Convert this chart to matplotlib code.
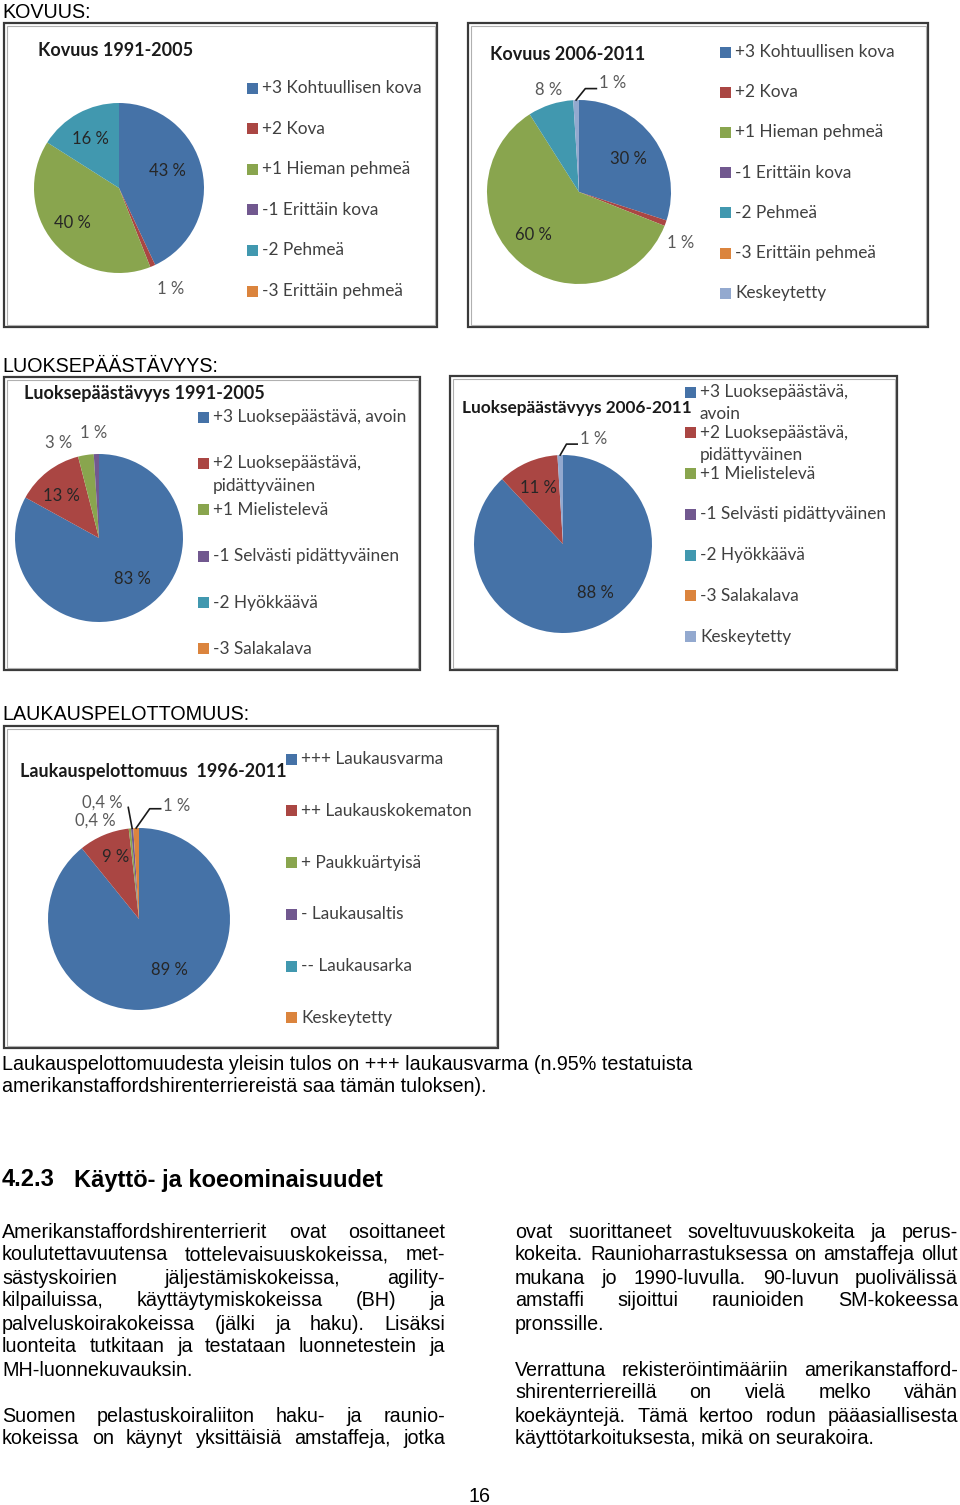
import numpy as np
import matplotlib
matplotlib.use('Agg')
import matplotlib.pyplot as plt
from matplotlib.patches import Rectangle

W, H = 960, 1505

# ---- data read from the page ----
kovuus_cats = ['+3 Kohtuullisen kova', '+2 Kova', '+1 Hieman pehmeä',
               '-1 Erittäin kova', '-2 Pehmeä', '-3 Erittäin pehmeä']
kovuus_cats2 = kovuus_cats + ['Keskeytetty']
kovuus_9105 = [43, 1, 40, 0, 16, 0]
kovuus_0611 = [30, 1, 60, 0, 8, 0, 1]

luokse_cats = ['+3 Luoksepäästävä, avoin', '+2 Luoksepäästävä,\npidättyväinen',
               '+1 Mielistelevä', '-1 Selvästi pidättyväinen', '-2 Hyökkäävä', '-3 Salakalava']
luokse_cats2 = ['+3 Luoksepäästävä,\navoin', '+2 Luoksepäästävä,\npidättyväinen',
                '+1 Mielistelevä', '-1 Selvästi pidättyväinen', '-2 Hyökkäävä', '-3 Salakalava',
                'Keskeytetty']
luokse_9105 = [83, 13, 3, 1, 0, 0]
luokse_0611 = [88, 11, 0, 0, 0, 0, 1]

lauk_cats = ['+++ Laukausvarma', '++ Laukauskokematon', '+ Paukkuärtyisä',
             '- Laukausaltis', '-- Laukausarka', 'Keskeytetty']
lauk_9611 = [89, 9, 0.4, 0.4, 0, 1]

caption = ['Laukauspelottomuudesta yleisin tulos on +++ laukausvarma (n.95% testatuista',
           'amerikanstaffordshirenterriereistä saa tämän tuloksen).']

left_col = [
    ['Amerikanstaffordshirenterrierit ovat osoittaneet',
     'koulutettavuutensa tottelevaisuuskokeissa, met-',
     'sästyskoirien jäljestämiskokeissa, agility-',
     'kilpailuissa, käyttäytymiskokeissa (BH) ja',
     'palveluskoirakokeissa (jälki ja haku). Lisäksi',
     'luonteita tutkitaan ja testataan luonnetestein ja',
     'MH-luonnekuvauksin.'],
    ['Suomen pelastuskoiraliiton haku- ja raunio-',
     'kokeissa on käynyt yksittäisiä amstaffeja, jotka'],
]
right_col = [
    ['ovat suorittaneet soveltuvuuskokeita ja perus-',
     'kokeita. Raunioharrastuksessa on amstaffeja ollut',
     'mukana jo 1990-luvulla. 90-luvun puolivälissä',
     'amstaffi sijoittui raunioiden SM-kokeessa',
     'pronssille.'],
    ['Verrattuna rekisteröintimääriin amerikanstafford-',
     'shirenterriereillä on vielä melko vähän',
     'koekäyntejä. Tämä kertoo rodun pääasiallisesta',
     'käyttötarkoituksesta, mikä on seurakoira.'],
]

colors = ['#4572A7', '#AA4643', '#89A54E', '#71588F', '#4198AF', '#DB843D', '#93A9CF']

BODY = 'Liberation Sans'
CHART = 'Lato'
BS = 14.2   # body font size

fig = plt.figure(figsize=(W / 100, H / 100), dpi=100)
bg = fig.add_axes([0, 0, 1, 1])
bg.set_xlim(0, W)
bg.set_ylim(H, 0)
bg.axis('off')
renderer = fig.canvas.get_renderer()


def width_of(s, size, weight='normal'):
    t = bg.text(0, 0, s, fontsize=size, family=BODY, fontweight=weight)
    w = t.get_window_extent(renderer).width
    t.remove()
    return w


def put(x, y, s, size=BS, **kw):
    # va=center sits a bit high for body text, nudge down
    bg.text(x, y + 2, s, fontsize=size, family=BODY, va='center', **kw)


def draw_paragraphs(paras, x0, x1, y, dy, gap, size=BS):
    for lines in paras:
        for i, line in enumerate(lines):
            last = (i == len(lines) - 1) and lines is not left_col[-1]
            words = line.split()
            if last or len(words) < 2:
                put(x0, y, line, size, ha='left')
            else:
                ws = [width_of(w, size) for w in words]
                space = (x1 - x0 - sum(ws)) / (len(words) - 1)
                x = x0
                for w, wd in zip(words, ws):
                    put(x, y, w, size, ha='left')
                    x += wd + space
            y += dy
        y += gap


def chart_box(x0, y0, x1, y1):
    bg.add_patch(Rectangle((x0, y0), x1 - x0, y1 - y0, fill=False,
                           edgecolor='#3a3a3a', lw=1.6))
    bg.add_patch(Rectangle((x0 + 2.5, y0 + 2.5), x1 - x0 - 5, y1 - y0 - 5, fill=False,
                           edgecolor='#b0b0b0', lw=0.8))


def pie_chart(spec):
    chart_box(*spec['box'])
    tx, ty = spec['title_xy']
    bg.text(tx, ty, spec['title'], fontsize=spec.get('tsize', 13), family=CHART,
            fontweight='bold', color='#1a1a1a', va='center', ha='left')
    pal = colors if spec.get('pal') is None else spec['pal']
    lx, ly, step = spec['leg']
    yy = ly
    for cat, col in zip(spec['cats'], pal):
        bg.add_patch(Rectangle((lx, yy - 5.5), 11, 11, facecolor=col, edgecolor='none'))
        for k, part in enumerate(cat.split('\n')):
            bg.text(lx + 15, yy + k * spec.get('lsp', 22), part, fontsize=12.4, family=CHART,
                    color='#404040', va='center', ha='left')
        yy += step

    cx, cy = spec['center']
    r = spec['r']
    ax = fig.add_axes([(cx - r) / W, 1 - (cy + r) / H, 2 * r / W, 2 * r / H])
    wedges, _ = ax.pie(spec['vals'], colors=pal[:len(spec['vals'])], startangle=90,
                       counterclock=False, radius=1, wedgeprops=dict(linewidth=0))
    ax.set_xlim(-1, 1)
    ax.set_ylim(-1, 1)
    ax.axis('off')

    nz = [(w, v) for w, v in zip(wedges, spec['vals']) if v > 0]
    for (w, v), d, sh, lead in zip(nz, spec['dists'], spec['shifts'], spec['leaders']):
        mid = np.deg2rad((w.theta1 + w.theta2) / 2)
        ang = mid + np.deg2rad(sh)
        px, py = d * np.cos(ang), d * np.sin(ang)
        txt = ('%g %%' % v).replace('.', ',')
        col = '#262626' if d < 1 else '#595959'
        ax.text(px, py, txt, fontsize=12, family=CHART, color=col,
                ha='center', va='center', clip_on=False)
        if lead is not None:
            ex, ey, tail = lead
            x0, y0 = np.cos(mid), np.sin(mid)
            xs = [x0, px + ex, px + ex + tail]
            ys = [y0, py + ey, py + ey]
            ax.plot(xs, ys, color='#1a1a1a', lw=1.2, clip_on=False)


specs = [
    dict(title='Kovuus 1991-2005', vals=kovuus_9105, cats=kovuus_cats,
         box=(4, 23, 437, 327), title_xy=(38, 51), center=(119, 188), r=85,
         leg=(247, 88, 40.6), dists=[0.6, 1.34, 0.69, 0.67], shifts=[7, 3.6, -2.6, 1.8],
         leaders=[None] * 4),
    dict(title='Kovuus 2006-2011', vals=kovuus_0611, cats=kovuus_cats2,
         box=(468, 23, 928, 327), title_xy=(490, 54), center=(579, 192), r=92,
         leg=(720, 52, 40.2), dists=[0.65, 1.24, 0.68, 1.16, 1.24],
         shifts=[-2.6, -6.8, -7.3, -1.6, -19.1],
         leaders=[None, None, None, None, (-0.3, -0.06, 0.12)]),
    dict(title='Luoksepäästävyys 1991-2005', vals=luokse_9105, cats=luokse_cats,
         box=(4, 377, 420, 670), title_xy=(24, 393), center=(99, 538), r=84,
         leg=(198, 417, 46.4), lsp=23, dists=[0.63, 0.67, 1.23, 1.25],
         shifts=[9, 3.6, 13.8, 0.9], leaders=[None] * 4),
    dict(title='Luoksepäästävyys 2006-2011', vals=luokse_0611, cats=luokse_cats2,
         box=(450, 376, 897, 670), title_xy=(462, 408), center=(563, 544), r=89, tsize=12.4,
         leg=(685, 392, 40.8), lsp=22, dists=[0.66, 0.69, 1.23],
         shifts=[12.4, 0.6, -17.8], leaders=[None, None, (-0.3, -0.06, 0.12)]),
    dict(title='Laukauspelottomuus  1996-2011', vals=lauk_9611, cats=lauk_cats,
         box=(4, 726, 498, 1048), title_xy=(20, 771), center=(139, 919), r=91,
         leg=(286, 759, 51.8), dists=[0.65, 0.73, 1.18, 1.34, 1.31],
         shifts=[11, -1.7, 18.2, 13.4, -20.4],
         leaders=[None, None, None, (0.29, -0.05, 0.0), (-0.3, -0.03, 0.12)]),
]

for s in specs:
    pie_chart(s)

# ---- page text ----
put(2, 10, 'KOVUUS:')
put(2, 365, 'LUOKSEPÄÄSTÄVYYS:')
put(2, 712, 'LAUKAUSPELOTTOMUUS:')

for i, line in enumerate(caption):
    put(2, 1062 + i * 23, line)

put(2, 1178, '4.2.3', 17, fontweight='bold')
put(74, 1178, 'Käyttö- ja koeominaisuudet', 17, fontweight='bold')

draw_paragraphs(left_col, 2, 445, 1230, 23, 23)
draw_paragraphs(right_col, 515, 958, 1230, 23, 23)

put(480, 1495, '16', ha='center')

fig.savefig('out.png', dpi=100)
